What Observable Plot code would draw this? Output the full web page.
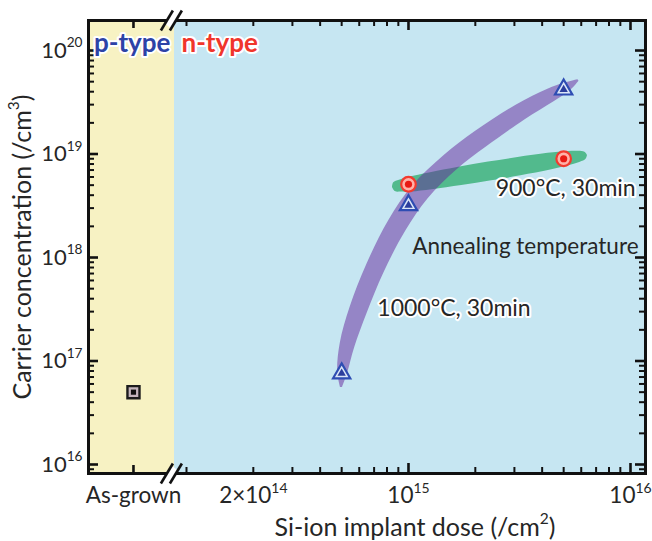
<!DOCTYPE html>
<html><head><meta charset="utf-8">
<script src="https://cdn.jsdelivr.net/npm/d3@7"></script>
<script src="https://cdn.jsdelivr.net/npm/@observablehq/plot@0.6"></script>
<style>body{margin:0;background:#fff}</style>
</head><body><div id="chart"></div>
<script>
// ---------- data ----------
const asGrownLabel = "As-grown";
const asGrownDose = 5.77e13;          // slot of the as-grown category on the broken dose axis
const asGrownConc = [5.0e16];
const dose1000 = [5e14, 1e15, 5e15];
const conc1000 = [7.6e16, 3.2e18, 4.2e19];
const dose900 = [1e15, 5e15];
const conc900 = [5.1e18, 9.0e18];

// guide band of the 1000°C series (centre line + width in px)
const band1000Dose = [4.99e14, 5.05e14, 5.31e14, 5.96e14, 7.10e14, 8.92e14, 1.13e15, 1.55e15, 2.11e15, 3.20e15, 4.37e15, 5.26e15, 5.83e15];
const band1000Conc = [5.55e16, 7.74e16, 1.41e17, 3.08e17, 7.83e17, 2.04e18, 4.25e18, 8.28e18, 1.38e19, 2.52e19, 3.67e19, 4.49e19, 5.13e19];
const band1000Width = [2, 10, 15, 18, 19, 20, 20, 19, 19, 17, 14, 9, 2];
// guide ellipse of the 900°C series
const band900Dose = [8.47e14, 8.65e14, 9.2e14, 1.02e15, 1.26e15, 1.71e15, 2.33e15, 3.16e15, 4.31e15, 5.31e15, 5.89e15, 6.27e15, 6.4e15];
const band900Conc = [4.74e18, 4.78e18, 4.89e18, 5.07e18, 5.45e18, 6.08e18, 6.78e18, 7.55e18, 8.43e18, 9.06e18, 9.40e18, 9.62e18, 9.68e18];
const band900Width = [0, 9, 12, 15, 17, 18.5, 19, 18.5, 17, 14, 11, 7, 0];

// axes
const xDomain = [10 ** 13.5586, 10 ** 16.0676];
const yDomain = [10 ** 15.913, 10 ** 20.29];
const breakDose = 8.55e13;
const boundaryDose = 8.83e13;
const xTickValues = [asGrownDose, 2e14, 1e15, 1e16];
const xTickLabels = [asGrownLabel, "2×10^{14}", "10^{15}", "10^{16}"];
const xMajorTicks = [1e15, 1e16];
const xMinorTicks = [1e14, 2e14, 3e14, 4e14, 5e14, 6e14, 7e14, 8e14, 9e14, 2e15, 3e15, 4e15, 5e15, 6e15, 7e15, 8e15, 9e15];
const yTickValues = [1e16, 1e17, 1e18, 1e19, 1e20];
const yTickLabels = ["10^{16}", "10^{17}", "10^{18}", "10^{19}", "10^{20}"];
const yMinorTicks = [9e15].concat([16, 17, 18, 19].flatMap(e => [2, 3, 4, 5, 6, 7, 8, 9].map(k => k * 10 ** e)));

const xTitle = "Si-ion implant dose (/cm^{2})";
const yTitle = "Carrier concentration (/cm^{3})";
const labels = [
  {text: "900°C, 30min", dose: 2.47e15, conc: 3.97e18, halo: true},
  {text: "Annealing temperature", dose: 1.04e15, conc: 1.09e18, halo: false},
  {text: "1000°C, 30min", dose: 7.24e14, conc: 2.75e17, halo: true}
];

// ---------- layout ----------
const W = 652, H = 541, ML = 88, MR = 7, MT = 20, MB = 68;
const FONT = "Lato, 'Open Sans', sans-serif";
const INK = "#262626";
const xs = Plot.scale({x: {type: "log", domain: xDomain, range: [ML, W - MR]}});
const ys = Plot.scale({y: {type: "log", domain: yDomain, range: [H - MB, MT]}});
const xAt = px => xs.invert(px), yAt = py => ys.invert(py);
const [X0, X1] = xDomain, [Y0, Y1] = yDomain;
const pX0 = xs.apply(X0), pX1 = xs.apply(X1), pY0 = ys.apply(Y0), pY1 = ys.apply(Y1);

function bandEdges(doses, concs, widths) {
  const P = doses.map((d, i) => [xs.apply(d), ys.apply(concs[i])]);
  return P.map((p, i) => {
    const a = P[Math.max(0, i - 1)], b = P[Math.min(P.length - 1, i + 1)];
    const tx = b[0] - a[0], ty = b[1] - a[1], L = Math.hypot(tx, ty);
    const nx = -ty / L, ny = tx / L, h = widths[i] / 2;
    return {x1: xAt(p[0] + nx * h), y1: yAt(p[1] + ny * h), x2: xAt(p[0] - nx * h), y2: yAt(p[1] - ny * h)};
  });
}
const purple = bandEdges(band1000Dose, band1000Conc, band1000Width);
const green = bandEdges(band900Dose, band900Conc, band900Width);

// ticks (inward)
const yTick = (vals, len, fromRight) => Plot.ruleY(vals, {
  x1: fromRight ? X1 : X0, x2: fromRight ? xAt(pX1 - len) : xAt(pX0 + len),
  stroke: "#111", strokeWidth: len > 7 ? 2.6 : 2});
const xTick = (vals, len, fromTop) => Plot.ruleX(vals, {
  y1: fromTop ? Y1 : Y0, y2: fromTop ? yAt(pY1 + len) : yAt(pY0 - len),
  stroke: "#111", strokeWidth: len > 7 ? 2.6 : 2});

// axis break slashes
const pB = xs.apply(breakDose);
const slashes = [], gaps = [];
for (const py of [pY0, pY1]) {
  gaps.push({x1: xAt(pB - 4), y1: yAt(py + 5), x2: xAt(pB + 4), y2: yAt(py - 5)});
  for (const off of [-4.5, 4.5]) {
    slashes.push({x1: xAt(pB + off - 6), y1: yAt(py + 10), x2: xAt(pB + off + 6), y2: yAt(py - 10)});
  }
}

const idx1000 = d3.range(dose1000.length), idx900 = d3.range(dose900.length);

const chart = Plot.plot({
  width: W, height: H, marginLeft: ML, marginRight: MR, marginTop: MT, marginBottom: MB,
  x: {type: "log", domain: xDomain, axis: null},
  y: {type: "log", domain: yDomain, axis: null},
  style: {fontFamily: FONT, fontSize: "22px", color: INK, background: "white", overflow: "visible"},
  marks: [
    Plot.rect([0], {x1: X0, x2: boundaryDose, y1: Y0, y2: Y1, fill: "#f7f2c3"}),
    Plot.rect([0], {x1: boundaryDose, x2: X1, y1: Y0, y2: Y1, fill: "#c6e6f2"}),
    Plot.area(green, {x1: "x1", y1: "y1", x2: "x2", y2: "y2", curve: "catmull-rom", fill: "#52ba8d"}),
    Plot.area(purple, {x1: "x1", y1: "y1", x2: "x2", y2: "y2", curve: "catmull-rom", fill: "#64249a", fillOpacity: 0.5}),
    Plot.frame({stroke: "#111", strokeWidth: 3}),
    yTick(yTickValues, 10, false), yTick(yMinorTicks, 6, false),
    yTick(yTickValues, 10, true), yTick(yMinorTicks, 6, true),
    xTick(xMajorTicks, 10, false), xTick(xMinorTicks, 6, false), xTick([asGrownDose], 8, false),
    xTick(xMajorTicks, 10, true), xTick(xMinorTicks, 6, true), xTick([asGrownDose], 8, true),
    Plot.link(gaps, {x1: "x1", y1: "y1", x2: "x2", y2: "y2", stroke: "white", strokeWidth: 7}),
    Plot.link(slashes, {x1: "x1", y1: "y1", x2: "x2", y2: "y2", stroke: "#111", strokeWidth: 2.6}),
    // as-grown
    Plot.dot(asGrownConc, {x: () => asGrownDose, y: d => d, symbol: "square", r: 6.8, fill: "#c4b4bd", stroke: "#1c1c1c", strokeWidth: 2.4}),
    Plot.dot(asGrownConc, {x: () => asGrownDose, y: d => d, symbol: "square", r: 2.9, fill: "#111"}),
    // 1000 °C
    Plot.dot(idx1000, {x: i => dose1000[i], y: i => conc1000[i], symbol: "triangle", r: 6.4, fill: "#dbe6f7", stroke: "#2e4db3", strokeWidth: 2.2}),
    Plot.dot(idx1000, {x: i => dose1000[i], y: i => conc1000[i], symbol: "triangle", r: 3.1, fill: "#2b3e9d"}),
    // 900 °C
    Plot.dot(idx900, {x: i => dose900[i], y: i => conc900[i], r: 7.3, fill: "#ffb1a8", stroke: "#f23a2f", strokeWidth: 2.2}),
    Plot.dot(idx900, {x: i => dose900[i], y: i => conc900[i], r: 3.6, fill: "#e81a14"}),
    // annotations
    Plot.text(labels.filter(d => d.halo), {x: "dose", y: "conc", text: "text", textAnchor: "start", lineAnchor: "bottom", fill: INK, stroke: "white", strokeWidth: 4, fontSize: 23}),
    Plot.text(labels.filter(d => !d.halo), {x: "dose", y: "conc", text: "text", textAnchor: "start", lineAnchor: "bottom", fill: INK, fontSize: 22.5}),
    Plot.text(["p-type"], {x: () => boundaryDose, y: () => Y1, dx: -4, dy: 31, textAnchor: "end", lineAnchor: "bottom", fill: "#2d43a6", stroke: "white", strokeWidth: 4, fontWeight: "bold", fontSize: 26}),
    Plot.text(["n-type"], {x: () => boundaryDose, y: () => Y1, dx: 7, dy: 31, textAnchor: "start", lineAnchor: "bottom", fill: "#f0352b", stroke: "white", strokeWidth: 4, fontWeight: "bold", fontSize: 26}),
    // tick labels
    Plot.text(yTickValues, {y: d => d, frameAnchor: "left", dx: -6, textAnchor: "end", text: (d, i) => yTickLabels[i], fill: INK, fontSize: 22}),
    Plot.text(xTickValues, {x: d => d, frameAnchor: "bottom", dy: 14, lineAnchor: "top", text: (d, i) => xTickLabels[i], fill: INK, fontSize: 22.5}),
    // axis titles
    Plot.text([yTitle], {frameAnchor: "left", dx: -66, rotate: -90, textAnchor: "middle", fill: INK, fontSize: 25}),
    Plot.text([xTitle], {frameAnchor: "bottom", dx: 48, dy: 62, textAnchor: "middle", lineAnchor: "bottom", fill: INK, fontSize: 25})
  ]
});

function supify(root) {
  root.querySelectorAll("text").forEach(t => {
    const s = t.textContent;
    if (!s.includes("^")) return;
    const parts = s.split(/\^\{([^}]*)\}/);
    while (t.firstChild) t.removeChild(t.firstChild);
    let raised = false;
    parts.forEach((p, i) => {
      if (!p) return;
      const ts = document.createElementNS("http://www.w3.org/2000/svg", "tspan");
      ts.textContent = p;
      if (i % 2) { ts.setAttribute("font-size", "0.62em"); ts.setAttribute("dy", "-0.75em"); raised = true; }
      else if (raised) { ts.setAttribute("dy", "0.465em"); raised = false; }
      t.appendChild(ts);
    });
  });
}
supify(chart);
document.getElementById("chart").appendChild(chart);
</script>
</body></html>
